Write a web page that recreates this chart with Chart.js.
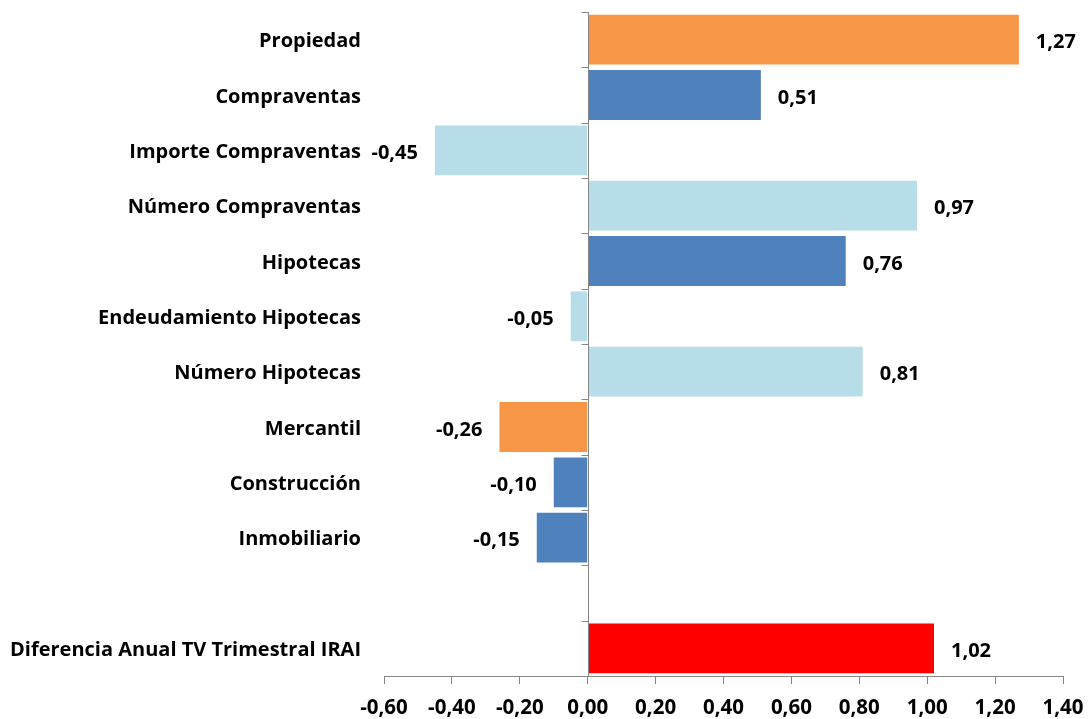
<!DOCTYPE html>
<html>
<head>
<meta charset="utf-8">
<script src="https://cdn.jsdelivr.net/npm/chart.js@4.4.1/dist/chart.umd.min.js"></script>
<style>
  html, body { margin: 0; padding: 0; background: #ffffff; }
  #wrap { width: 1091px; height: 719px; position: relative; }
</style>
</head>
<body>
<div id="wrap"><canvas id="chart"></canvas></div>
<script>
// Category labels (top to bottom); the empty entry leaves a gap row
const categories = [
  'Propiedad',
  'Compraventas',
  'Importe Compraventas',
  'Número Compraventas',
  'Hipotecas',
  'Endeudamiento Hipotecas',
  'Número Hipotecas',
  'Mercantil',
  'Construcción',
  'Inmobiliario',
  '',
  'Diferencia Anual TV Trimestral IRAI'
];

// Contribution of each component
const values = [1.27, 0.51, -0.45, 0.97, 0.76, -0.05, 0.81, -0.26, -0.10, -0.15, null, 1.02];

// Bar colours by component group
const barColors = [
  '#F79646', '#4F81BD', '#B7DEE8', '#B7DEE8', '#4F81BD', '#B7DEE8',
  '#B7DEE8', '#F79646', '#4F81BD', '#4F81BD', '#4F81BD', '#FF0000'
];

// Value axis range and step
const axisMin = -0.6;
const axisMax = 1.4;
const axisStep = 0.2;

const FONT = '"Open Sans", Lato, "Liberation Sans", sans-serif';
const AXIS_GREY = '#868686';

function fmt(v) {
  if (Math.abs(v) < 1e-9) v = 0;
  return v.toFixed(2).replace('.', ',');
}

// Value labels next to each bar end
const valueLabels = {
  id: 'valueLabels',
  afterDatasetsDraw(chart) {
    const ctx = chart.ctx;
    const meta = chart.getDatasetMeta(0);
    const data = chart.data.datasets[0].data;
    ctx.save();
    ctx.font = 'bold 20px ' + FONT;
    ctx.fillStyle = '#000000';
    ctx.textBaseline = 'middle';
    meta.data.forEach((bar, i) => {
      const v = data[i];
      if (v === null || v === undefined) return;
      if (v >= 0) {
        ctx.textAlign = 'left';
        ctx.fillText(fmt(v), bar.x + 17, bar.y + 3);
      } else {
        ctx.textAlign = 'right';
        ctx.fillText(fmt(v), bar.x - 17, bar.y + 3);
      }
    });
    ctx.restore();
  }
};

// Category axis drawn along the zero value, with ticks between categories
const zeroAxis = {
  id: 'zeroAxis',
  afterDatasetsDraw(chart) {
    const ctx = chart.ctx;
    const xs = chart.scales.x;
    const ys = chart.scales.y;
    const x0 = Math.round(xs.getPixelForValue(0)) + 0.5;
    ctx.save();
    ctx.strokeStyle = AXIS_GREY;
    ctx.lineWidth = 1;
    ctx.beginPath();
    ctx.moveTo(x0, chart.chartArea.top);
    ctx.lineTo(x0, chart.chartArea.bottom);
    for (let i = 0; i <= categories.length; i++) {
      const y = Math.round(ys.getPixelForValue(i - 0.5)) + 0.5;
      ctx.moveTo(x0 - 7, y);
      ctx.lineTo(x0, y);
    }
    ctx.stroke();
    ctx.restore();
  }
};

new Chart(document.getElementById('chart'), {
  type: 'bar',
  data: {
    labels: categories,
    datasets: [{
      data: values,
      backgroundColor: barColors,
      borderWidth: 0,
      barPercentage: 0.9,
      categoryPercentage: 1.0
    }]
  },
  options: {
    indexAxis: 'y',
    responsive: true,
    maintainAspectRatio: false,
    animation: false,
    layout: { padding: { top: 12, right: 28, bottom: 0, left: 0 } },
    plugins: {
      legend: { display: false },
      tooltip: { enabled: false }
    },
    scales: {
      x: {
        min: axisMin,
        max: axisMax,
        grid: {
          display: true,
          drawOnChartArea: false,
          drawTicks: true,
          tickLength: 8,
          tickColor: AXIS_GREY
        },
        border: { display: true, color: AXIS_GREY, width: 1 },
        ticks: {
          stepSize: axisStep,
          padding: 12,
          color: '#000000',
          font: { family: FONT, size: 20.5, weight: 'bold' },
          callback: (v) => fmt(v),
          maxRotation: 0,
          autoSkip: false
        },
        afterFit: (s) => { s.height = 43; s.paddingLeft = 0; s.paddingRight = 0; }
      },
      y: {
        grid: { display: false, drawTicks: false },
        border: { display: false },
        ticks: {
          padding: 23,
          labelOffset: 2,
          color: '#000000',
          font: { family: FONT, size: 20, weight: 'bold' },
          autoSkip: false
        },
        afterFit: (s) => { s.width = 384; s.paddingTop = 0; s.paddingBottom = 0; }
      }
    }
  },
  plugins: [zeroAxis, valueLabels]
});
</script>
</body>
</html>
